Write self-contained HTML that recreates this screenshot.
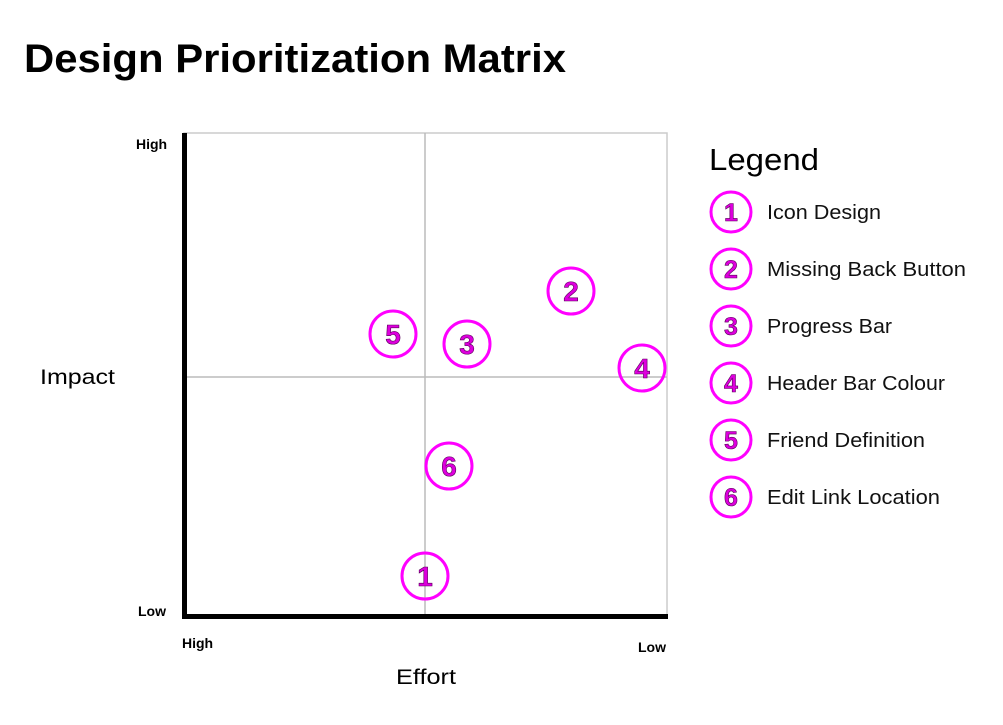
<!DOCTYPE html>
<html><head><style>
body{margin:0;background:#fff;width:1003px;height:720px;overflow:hidden;font-family:"Liberation Sans",sans-serif}
</style></head><body>
<svg width="1003" height="720" xmlns="http://www.w3.org/2000/svg" font-family="Liberation Sans, sans-serif">
<text x="24" y="72" font-size="40" font-weight="bold" fill="#000" textLength="542" lengthAdjust="spacingAndGlyphs">Design Prioritization Matrix</text>
<rect x="184" y="133" width="483" height="483" fill="none" stroke="#ccc" stroke-width="1.5"/>
<line x1="425" y1="133" x2="425" y2="616" stroke="#bbb" stroke-width="1.5"/>
<line x1="184" y1="377" x2="667" y2="377" stroke="#bbb" stroke-width="1.5"/>
<line x1="184.5" y1="133" x2="184.5" y2="619" stroke="#000" stroke-width="5"/>
<line x1="182" y1="616.5" x2="668" y2="616.5" stroke="#000" stroke-width="5"/>
<g font-size="14" font-weight="bold" fill="#000">
<text x="136" y="149">High</text>
<text x="138" y="616">Low</text>
<text x="182" y="648">High</text>
<text x="638" y="652">Low</text>
</g>
<text x="40" y="384" font-size="21" textLength="75" lengthAdjust="spacingAndGlyphs">Impact</text>
<text x="396" y="684" font-size="21" textLength="60" lengthAdjust="spacingAndGlyphs">Effort</text>
<g fill="none" stroke="#f0f" stroke-width="3">
<circle cx="425" cy="576" r="23"/><circle cx="571" cy="291" r="23"/><circle cx="467" cy="344" r="23"/>
<circle cx="642" cy="368" r="23"/><circle cx="393" cy="334" r="23"/><circle cx="449" cy="466" r="23"/>
<circle cx="731" cy="212" r="20"/><circle cx="731" cy="269" r="20"/><circle cx="731" cy="326" r="20"/>
<circle cx="731" cy="383" r="20"/><circle cx="731" cy="440" r="20"/><circle cx="731" cy="497" r="20"/>
</g>
<g font-size="28" font-weight="bold" fill="#d0d" stroke="#505" stroke-width="0.6" text-anchor="middle">
<text x="425" y="586">1</text><text x="571" y="301">2</text><text x="467" y="354">3</text>
<text x="642" y="378">4</text><text x="393" y="344">5</text><text x="449" y="476">6</text>
</g>
<g font-size="25" font-weight="bold" fill="#d0d" stroke="#505" stroke-width="0.6" text-anchor="middle">
<text x="731" y="221">1</text><text x="731" y="278">2</text><text x="731" y="335">3</text>
<text x="731" y="392">4</text><text x="731" y="449">5</text><text x="731" y="506">6</text>
</g>
<text x="709" y="170" font-size="31" textLength="110" lengthAdjust="spacingAndGlyphs">Legend</text>
<g font-size="20" fill="#111" lengthAdjust="spacingAndGlyphs">
<text x="767" y="219" textLength="114" lengthAdjust="spacingAndGlyphs">Icon Design</text>
<text x="767" y="276" textLength="199" lengthAdjust="spacingAndGlyphs">Missing Back Button</text>
<text x="767" y="333" textLength="125" lengthAdjust="spacingAndGlyphs">Progress Bar</text>
<text x="767" y="390" textLength="178" lengthAdjust="spacingAndGlyphs">Header Bar Colour</text>
<text x="767" y="447" textLength="158" lengthAdjust="spacingAndGlyphs">Friend Definition</text>
<text x="767" y="504" textLength="173" lengthAdjust="spacingAndGlyphs">Edit Link Location</text>
</g>
</svg>
</body></html>
